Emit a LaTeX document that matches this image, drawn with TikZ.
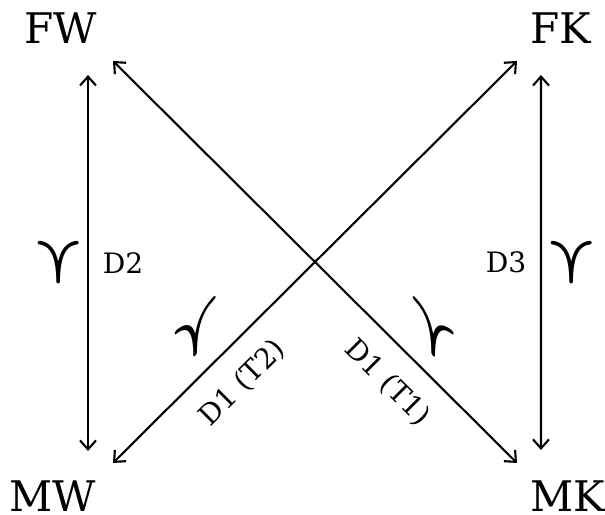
\documentclass[tikz,border=0pt]{standalone}
\usepackage{amsmath,bm}
\usepackage{fontspec}
\setmainfont{DejaVu Serif}
\usepackage{tikz}
\usetikzlibrary{arrows.meta}

\begin{document}
\begin{tikzpicture}[>={Straight Barb[length=0.9mm,width=1.6mm]}, corner/.style={font=\large}, lbl/.style={font=\footnotesize}, pref/.style={font=\LARGE, inner sep=0pt}, arr/.style={<->,semithick}]
\useasboundingbox (0,0) rectangle (6.05,5.15);
\node[corner] (FW) at (0.61,4.87) {FW};
\node[corner] (FK) at (5.61,4.87) {FK};
\node[corner] (MW) at (0.53,0.19) {MW};
\node[corner] (MK) at (5.68,0.19) {MK};
\draw[arr] ([shift={(0.27,-0.47)}]FW.center) -- node[lbl, midway, right=0.2mm] {D2} node[pref, midway, xshift=-2.9mm, rotate=-90] {$\bm{\succ}$} ([shift={(0.35,0.45)}]MW.center);
\draw[arr] ([shift={(-0.20,-0.47)}]FK.center) -- node[lbl, midway, left=0.2mm] {D3} node[pref, midway, xshift=3.1mm, rotate=-90] {$\bm{\succ}$} ([shift={(-0.27,0.46)}]MK.center);
\draw[arr] ([shift={(0.52,-0.33)}]FW.center) -- node[lbl, pos=0.74, sloped, below=0.9mm] {D1 (T1)} node[pref, pos=0.74, xshift=2.2mm, yshift=2.35mm, yslant=-0.9, rotate=-90] {$\bm{\succ}$} ([shift={(-0.51,0.33)}]MK.center);
\draw[arr] ([shift={(0.60,0.33)}]MW.center) -- node[lbl, pos=0.26, sloped, below=0.9mm] {D1 (T2)} node[pref, pos=0.26, xshift=-2.2mm, yshift=2.35mm, yslant=0.9, rotate=-90] {$\bm{\succ}$} ([shift={(-0.44,-0.33)}]FK.center);
\end{tikzpicture}
\end{document}
